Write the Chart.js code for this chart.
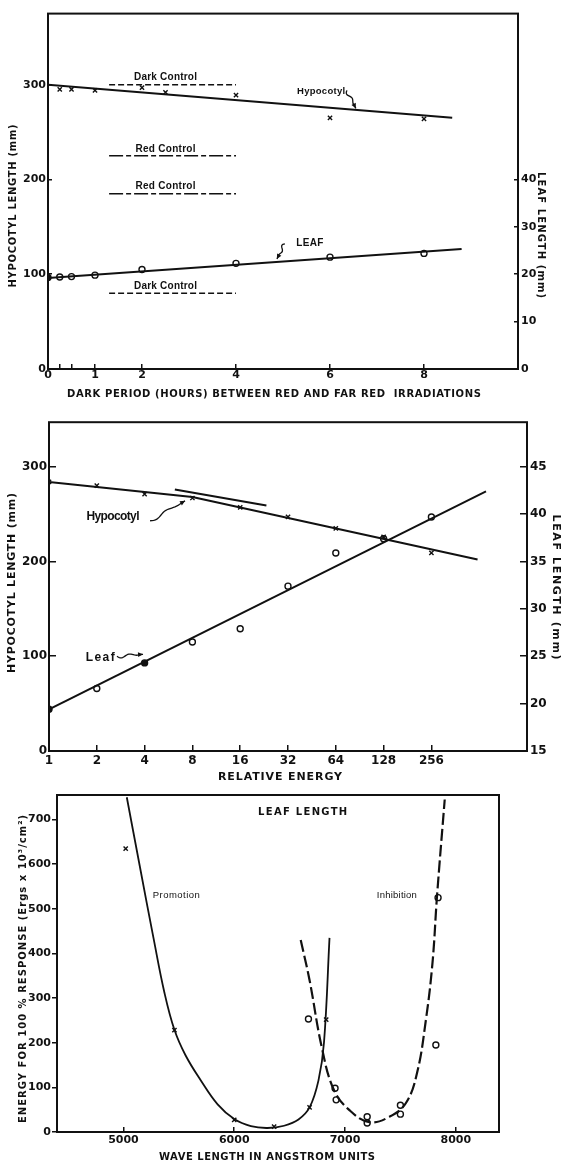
<!DOCTYPE html>
<html>
<head>
<meta charset="utf-8">
<script src="https://cdn.jsdelivr.net/npm/chart.js@4.4.1/dist/chart.umd.min.js"></script>
<style>
  html, body { margin: 0; padding: 0; background: #fff; }
  #wrap { position: relative; width: 563px; height: 1163px; overflow: hidden; background: #fff; }
  canvas { position: absolute; left: 0; }
</style>
</head>
<body>
<div id="wrap">
  <canvas id="c1" width="563" height="405" style="top:0px"></canvas>
  <canvas id="c2" width="563" height="380" style="top:405px"></canvas>
  <canvas id="c3" width="563" height="378" style="top:785px"></canvas>
</div>
<script>
// ---- panel 1: dark period between red and far red ----
const darkHours = [0.25, 0.5, 1, 2, 2.5, 4, 6, 8];
const hypocotylMm = [295, 295, 294, 297, 292, 289, 265, 264];
const leafHours = [0, 0.25, 0.5, 1, 2, 4, 6, 8];
const leafMm = [19.3, 19.4, 19.5, 19.8, 21.0, 22.3, 23.6, 24.4];
const hypocotylFitHours = [0, 8.6];
const hypocotylFitMm = [300, 265];
const leafFitHours = [0, 8.8];
const leafFitMm = [19.2, 25.3];
const controlHours = [1.3, 4.0];
const darkControlHypocotyl = 300;
const redControlHypocotyl = 225;
const redControlLeaf = 37;
const darkControlLeaf = 16;
const hourTicks = [0, 0.25, 0.5, 1, 2, 4, 6, 8];
const hourLabels = ['0', '', '', '1', '2', '4', '6', '8'];
const hypocotylTicks1 = [0, 100, 200, 300];
const leafTicks1 = [0, 10, 20, 30, 40];

// ---- panel 2: relative energy ----
const energy = [1, 2, 4, 8, 16, 32, 64, 128, 256];
const energyLabels = ['1', '2', '4', '8', '16', '32', '64', '128', '256'];
const hypocotylByEnergy = [284, 280, 271, 267, 257, 247, 235, 226, 209];
const leafByEnergy = [19.4, 21.6, 24.3, 26.5, 27.9, 32.4, 35.9, 37.4, 39.7];
const hypocotylFitEnergy = [1, 8, 500];
const hypocotylFitByEnergy = [284, 268, 202];
const hypocotylSideEnergy = [6.2, 23.4];
const hypocotylSideFit = [276, 259];
const leafFitEnergy = [1, 565];
const leafFitByEnergy = [19.4, 42.4];
const hypocotylTicks2 = [0, 100, 200, 300];
const leafTicks2 = [15, 20, 25, 30, 35, 40, 45];

// ---- panel 3: action spectrum ----
const promotionWave = [5020, 5460, 6000, 6360, 6680, 6830];
const promotionEnergy = [635, 228, 27, 12, 55, 252];
const inhibitionWave = [6670, 6910, 6920, 7200, 7200, 7500, 7500, 7820, 7840];
const inhibitionEnergy = [253, 98, 72, 34, 20, 60, 40, 195, 525];
const promotionCurveWave = [5030, 5150, 5270, 5370, 5460, 5560, 5700, 5850, 6000, 6150, 6300, 6450, 6580, 6680, 6760, 6810, 6860];
const promotionCurve = [750, 592, 436, 312, 229, 172, 115, 62, 29, 13, 9, 14, 28, 55, 115, 200, 435];
const inhibitionCurveWave = [6600, 6680, 6790, 6900, 7040, 7220, 7400, 7550, 7650, 7730, 7790, 7830, 7900];
const inhibitionCurve = [430, 340, 190, 94, 49, 22, 34, 65, 132, 251, 380, 527, 745];
const waveTicks = [5000, 6000, 7000, 8000];
const responseTicks = [0, 100, 200, 300, 400, 500, 600, 700];

const INK = '#111';
const FONT = '"DejaVu Sans", sans-serif';
const LABEL_FONT = '"Liberation Sans", Arial, sans-serif';

const xy = (xs, ys) => xs.map((x, i) => ({ x: x, y: ys[i] }));

function line(data, axis, extra) {
  return Object.assign({
    data: data, yAxisID: axis, showLine: true, fill: false, tension: 0,
    borderColor: INK, borderWidth: 2, pointRadius: 0
  }, extra || {});
}

function marks(data, axis, style, extra) {
  return Object.assign({
    data: data, yAxisID: axis, showLine: false, pointStyle: style,
    pointRadius: 3, borderColor: INK, pointBorderColor: INK,
    pointBorderWidth: 1.4, pointBackgroundColor: '#fff'
  }, extra || {});
}

function tickFont(size) {
  return { family: FONT, weight: 'bold', size: size };
}

function yScale(pos, min, max, ticks, width, tl, pad, size) {
  return {
    type: 'linear', position: pos, min: min, max: max, bounds: 'data',
    afterFit: s => { s.width = width; },
    afterBuildTicks: s => { s.ticks = ticks.map(v => ({ value: v })); },
    grid: { drawOnChartArea: false, tickLength: tl, color: INK, lineWidth: 1.5 },
    border: { display: false },
    ticks: { padding: pad, color: INK, autoSkip: false, font: tickFont(size), callback: v => String(v) }
  };
}

// text stretched with letter spacing to a measured width
function spacedText(ctx, text, x, y, font, width, angle) {
  ctx.save();
  ctx.font = font;
  ctx.letterSpacing = '0px';
  const natural = ctx.measureText(text).width;
  const gap = text.length > 1 ? (width - natural) / (text.length - 1) : 0;
  ctx.letterSpacing = gap.toFixed(2) + 'px';
  ctx.translate(x, y);
  ctx.rotate(angle || 0);
  ctx.fillStyle = INK;
  ctx.textAlign = 'left';
  ctx.textBaseline = 'middle';
  ctx.fillText(text, -width / 2, 0);
  ctx.restore();
}

// wavy pointer arrow
function squiggle(ctx, x0, y0, x1, y1) {
  const dx = x1 - x0, dy = y1 - y0, len = Math.hypot(dx, dy);
  const ux = dx / len, uy = dy / len, nx = -uy, ny = ux;
  ctx.save();
  ctx.strokeStyle = INK; ctx.fillStyle = INK; ctx.lineWidth = 1.3;
  ctx.beginPath();
  for (let i = 0; i <= 24; i++) {
    const t = i / 24;
    const amp = 2.4 * Math.sin(t * Math.PI * 3) * (1 - t);
    const px = x0 + dx * t + nx * amp, py = y0 + dy * t + ny * amp;
    if (i) ctx.lineTo(px, py); else ctx.moveTo(px, py);
  }
  ctx.stroke();
  ctx.beginPath();
  ctx.moveTo(x1, y1);
  ctx.lineTo(x1 - ux * 5 + nx * 2.4, y1 - uy * 5 + ny * 2.4);
  ctx.lineTo(x1 - ux * 5 - nx * 2.4, y1 - uy * 5 - ny * 2.4);
  ctx.closePath();
  ctx.fill();
  ctx.restore();
}

function framePlugin(extras) {
  return {
    id: 'frame',
    afterDraw(chart) {
      const { ctx, chartArea: a } = chart;
      ctx.save();
      ctx.strokeStyle = INK;
      ctx.lineWidth = 2;
      ctx.strokeRect(a.left, a.top, a.right - a.left, a.bottom - a.top);
      ctx.restore();
      extras(chart, ctx);
    }
  };
}

const common = {
  responsive: false,
  animation: false,
  events: [],
  plugins: { legend: { display: false }, tooltip: { enabled: false } }
};

Chart.defaults.font.family = FONT;
Chart.defaults.color = INK;

// ================= panel 1 =================
new Chart(document.getElementById('c1'), {
  type: 'scatter',
  data: {
    datasets: [
      line(xy(hypocotylFitHours, hypocotylFitMm), 'y'),
      line(xy(leafFitHours, leafFitMm), 'y2'),
      line(xy(controlHours, [darkControlHypocotyl, darkControlHypocotyl]), 'y', { borderWidth: 1.5, borderDash: [6, 3] }),
      line(xy(controlHours, [redControlHypocotyl, redControlHypocotyl]), 'y', { borderWidth: 1.5, borderDash: [14, 3, 5, 3] }),
      line(xy(controlHours, [redControlLeaf, redControlLeaf]), 'y2', { borderWidth: 1.5, borderDash: [14, 3, 5, 3] }),
      line(xy(controlHours, [darkControlLeaf, darkControlLeaf]), 'y2', { borderWidth: 1.5, borderDash: [6, 3] }),
      marks(xy(darkHours, hypocotylMm), 'y', 'crossRot'),
      marks(xy(leafHours, leafMm), 'y2', 'circle', {
        pointBackgroundColor: c => (c.dataIndex === 0 ? INK : '#fff')
      })
    ]
  },
  options: Object.assign({}, common, {
    layout: { padding: { top: 11, left: 0, right: 0, bottom: 0 } },
    scales: {
      x: {
        type: 'linear', position: 'bottom', min: 0, max: 10, bounds: 'data',
        afterFit: s => { s.height = 36; },
        afterBuildTicks: s => { s.ticks = hourTicks.map(v => ({ value: v })); },
        grid: { drawOnChartArea: false, tickLength: -5, color: INK, lineWidth: 1.5 },
        border: { display: false },
        ticks: { padding: 5, color: INK, autoSkip: false, maxRotation: 0, font: tickFont(11),
                 callback: (v, i) => hourLabels[i] }
      },
      y: yScale('left', 0, 375, hypocotylTicks1, 48, -4, 6, 11),
      y2: yScale('right', 0, 75, leafTicks1, 45, -4, 7, 11)
    }
  }),
  plugins: [framePlugin((chart, ctx) => {
    const x = chart.scales.x, y = chart.scales.y, y2 = chart.scales.y2;
    const ctrlFont = 'bold 10px ' + LABEL_FONT;
    spacedText(ctx, 'Dark Control', x.getPixelForValue(2.5), y.getPixelForValue(darkControlHypocotyl) - 7, ctrlFont, 63);
    spacedText(ctx, 'Red Control', x.getPixelForValue(2.5), y.getPixelForValue(redControlHypocotyl) - 7, ctrlFont, 60);
    spacedText(ctx, 'Red Control', x.getPixelForValue(2.5), y2.getPixelForValue(redControlLeaf) - 7, ctrlFont, 60);
    spacedText(ctx, 'Dark Control', x.getPixelForValue(2.5), y2.getPixelForValue(darkControlLeaf) - 7, ctrlFont, 63);
    spacedText(ctx, 'Hypocotyl', x.getPixelForValue(5.81), y.getPixelForValue(293), 'bold 9.5px ' + LABEL_FONT, 48);
    squiggle(ctx, x.getPixelForValue(6.36), y.getPixelForValue(294), x.getPixelForValue(6.55), y.getPixelForValue(275));
    spacedText(ctx, 'LEAF', x.getPixelForValue(5.57), y.getPixelForValue(133), 'bold 10px ' + LABEL_FONT, 27);
    squiggle(ctx, x.getPixelForValue(5.04), y.getPixelForValue(132), x.getPixelForValue(4.87), y.getPixelForValue(116));
    spacedText(ctx, 'HYPOCOTYL LENGTH (mm)', 13, 206, 'bold 10px ' + FONT, 163, -Math.PI / 2);
    spacedText(ctx, 'LEAF LENGTH (mm)', 541, 235, 'bold 10px ' + FONT, 126, Math.PI / 2);
    spacedText(ctx, 'DARK PERIOD (HOURS) BETWEEN RED AND FAR RED  IRRADIATIONS', 274, 394, 'bold 10px ' + FONT, 414);
  })]
});

// ================= panel 2 =================
new Chart(document.getElementById('c2'), {
  type: 'scatter',
  data: {
    datasets: [
      line(xy(hypocotylFitEnergy, hypocotylFitByEnergy), 'y'),
      line(xy(hypocotylSideEnergy, hypocotylSideFit), 'y'),
      line(xy(leafFitEnergy, leafFitByEnergy), 'y2'),
      marks(xy(energy, hypocotylByEnergy), 'y', 'crossRot'),
      marks(xy(energy, leafByEnergy), 'y2', 'circle', {
        pointBackgroundColor: c => ((c.dataIndex === 0 || c.dataIndex === 2) ? INK : '#fff')
      })
    ]
  },
  options: Object.assign({}, common, {
    layout: { padding: { top: 12, left: 0, right: 0, bottom: 0 } },
    scales: {
      x: {
        type: 'logarithmic', position: 'bottom', min: 1, max: 1024, bounds: 'data',
        afterFit: s => { s.height = 34; },
        afterBuildTicks: s => { s.ticks = energy.map(v => ({ value: v })); },
        grid: { drawOnChartArea: false, tickLength: -6, color: INK, lineWidth: 1.5 },
        border: { display: false },
        ticks: { padding: 9, color: INK, autoSkip: false, maxRotation: 0, font: tickFont(12),
                 callback: (v, i) => energyLabels[i] }
      },
      y: yScale('left', 0, 347, hypocotylTicks2, 49, -7, 9, 12),
      y2: yScale('right', 15, 49.7, leafTicks2, 36, -7, 10, 12)
    }
  }),
  plugins: [framePlugin((chart, ctx) => {
    const x = chart.scales.x, y = chart.scales.y;
    const f = 'bold 12px ' + LABEL_FONT;
    spacedText(ctx, 'Hypocotyl', x.getPixelForValue(2.53), y.getPixelForValue(247), f, 53);
    squiggle(ctx, x.getPixelForValue(4.33), y.getPixelForValue(243), x.getPixelForValue(7.19), y.getPixelForValue(264));
    spacedText(ctx, 'Leaf', x.getPixelForValue(2.1), y.getPixelForValue(99), f, 29);
    squiggle(ctx, x.getPixelForValue(2.68), y.getPixelForValue(100), x.getPixelForValue(3.91), y.getPixelForValue(102));
    spacedText(ctx, 'HYPOCOTYL LENGTH (mm)', 12, 178, 'bold 11px ' + FONT, 180, -Math.PI / 2);
    spacedText(ctx, 'LEAF LENGTH (mm)', 556, 182, 'bold 11px ' + FONT, 145, Math.PI / 2);
    spacedText(ctx, 'RELATIVE ENERGY', 280, 372, 'bold 11px ' + FONT, 124);
  })]
});

// ================= panel 3 =================
new Chart(document.getElementById('c3'), {
  type: 'scatter',
  data: {
    datasets: [
      line(xy(promotionCurveWave, promotionCurve), 'y', { tension: 0.4, borderWidth: 1.8 }),
      line(xy(inhibitionCurveWave, inhibitionCurve), 'y', { tension: 0.4, borderWidth: 2.2, borderDash: [12, 4] }),
      marks(xy(promotionWave, promotionEnergy), 'y', 'crossRot'),
      marks(xy(inhibitionWave, inhibitionEnergy), 'y', 'circle')
    ]
  },
  options: Object.assign({}, common, {
    layout: { padding: { top: 10, left: 0, right: 64, bottom: 0 } },
    scales: {
      x: {
        type: 'linear', position: 'bottom', min: 4400, max: 8390, bounds: 'data',
        afterFit: s => { s.height = 31; },
        afterBuildTicks: s => { s.ticks = waveTicks.map(v => ({ value: v })); },
        grid: { drawOnChartArea: false, tickLength: -5, color: INK, lineWidth: 1.5 },
        border: { display: false },
        ticks: { padding: 7, color: INK, autoSkip: false, maxRotation: 0, font: tickFont(11),
                 callback: v => String(v) }
      },
      y: yScale('left', 0, 755, responseTicks, 57, 5, 1, 11)
    }
  }),
  plugins: [framePlugin((chart, ctx) => {
    const x = chart.scales.x, y = chart.scales.y;
    spacedText(ctx, 'LEAF LENGTH', x.getPixelForValue(6617), y.getPixelForValue(715), 'bold 10px ' + FONT, 89);
    spacedText(ctx, 'Promotion', x.getPixelForValue(5477), y.getPixelForValue(531), '500 9.5px ' + LABEL_FONT, 47);
    spacedText(ctx, 'Inhibition', x.getPixelForValue(7468), y.getPixelForValue(531), '500 9.5px ' + LABEL_FONT, 40);
    spacedText(ctx, 'ENERGY FOR 100 % RESPONSE (Ergs x 10\u00b3/cm\u00b2)', 23, 184, 'bold 10px ' + FONT, 308, -Math.PI / 2);
    spacedText(ctx, 'WAVE LENGTH IN ANGSTROM UNITS', 267, 372, 'bold 10px ' + FONT, 216);
  })]
});
</script>
</body>
</html>
